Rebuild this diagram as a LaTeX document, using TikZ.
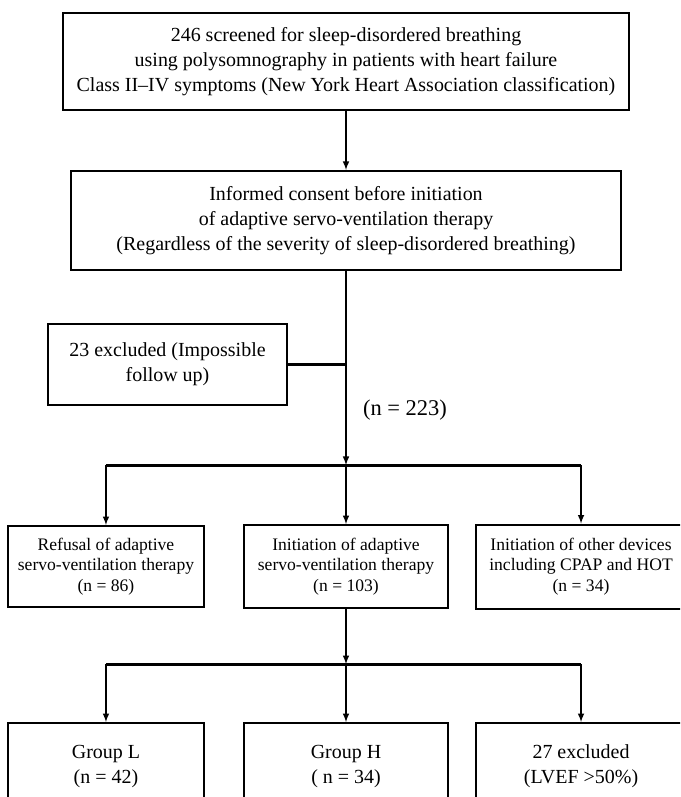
\documentclass[tikz,border=0pt]{standalone}
\usepackage{fontspec}
\setmainfont{Liberation Serif}
\usetikzlibrary{positioning}
\tikzset{block/.style={draw,line width=1.4pt,align=center,inner sep=2pt,font=\fontsize{14.2}{17.7}\selectfont},
         small/.style={block,font=\fontsize{12.5}{14.6}\selectfont},
         bus/.style={line width=2.2pt}
}
\tikzstyle{arrow} = [line width=1.1pt,-latex]

\begin{document}
\begin{tikzpicture}[x=0.025cm,y=0.025cm]
\useasboundingbox (0,0) rectangle (680,-797);
\clip (0,0) rectangle (680,-797);

\node[block,minimum width=14.15cm,minimum height=2.425cm] (top) at (346,-61.5) {246 screened for sleep-disordered breathing\\using polysomnography in patients with heart failure\\Class II--IV symptoms (New York Heart Association classification)};
\node[block,minimum width=13.75cm,minimum height=2.475cm,below=1.475cm of top] (consent) {Informed consent before initiation\\of adaptive servo-ventilation therapy\\(Regardless of the severity of sleep-disordered breathing)};
\node[block,minimum width=5.975cm,minimum height=2.025cm] (excl) at (167.5,-364.5) {23 excluded (Impossible\\follow up)};
\node[font=\fontsize{16}{18}\selectfont] (n223) at (405,-410) {(n = 223)};
\coordinate[below=4.85cm of consent] (bus1);

\node[small,minimum width=5.1cm,minimum height=2.075cm,below=6.325cm of consent] (asv) {Initiation of adaptive\\servo-ventilation therapy\\(n = 103)};
\node[small,minimum width=4.9cm,minimum height=2.025cm,left=0.95cm of asv] (refusal) {Refusal of adaptive\\servo-ventilation therapy\\(n = 86)};
\node[small,minimum width=5.25cm,minimum height=2.1cm,right=0.65cm of asv] (other) {Initiation of other devices\\including CPAP and HOT\\(n = 34)};
\coordinate[below=1.375cm of asv] (bus2);

\node[block,minimum width=5.1cm,minimum height=2.15cm,below=2.825cm of asv] (grpH) {Group H\\( n = 34)};
\node[block,minimum width=4.9cm,minimum height=2.15cm,left=0.95cm of grpH] (grpL) {Group L\\(n = 42)};
\node[block,minimum width=5.25cm,minimum height=2.15cm,right=0.65cm of grpH] (excl27) {27 excluded\\(LVEF >50\%)};

\draw[arrow] (top)--(consent);
\draw[arrow] (consent)--(bus1);
\draw[bus] (excl.east)--(excl.east -| consent.south);
\draw[bus] (bus1 -| refusal)--(bus1 -| other);
\draw[arrow] (bus1 -| refusal)--(refusal);
\draw[arrow] (bus1)--(asv);
\draw[arrow] (bus1 -| other)--(other);
\draw[arrow] (asv)--(bus2);
\draw[bus] (bus2 -| grpL)--(bus2 -| excl27);
\draw[arrow] (bus2 -| grpL)--(grpL);
\draw[arrow] (bus2)--(grpH);
\draw[arrow] (bus2 -| excl27)--(excl27);

\end{tikzpicture}
\end{document}
